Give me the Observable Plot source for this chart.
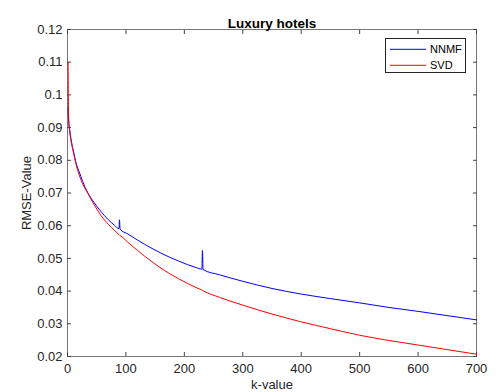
<!DOCTYPE html>
<html>
<head>
<meta charset="utf-8">
<script src="https://cdn.jsdelivr.net/npm/d3@7"></script>
<script src="https://cdn.jsdelivr.net/npm/@observablehq/plot@0.6"></script>
<style>
  html, body { margin: 0; padding: 0; background: #fff; }
  #wrap { position: relative; width: 496px; height: 392px; overflow: hidden; }
  #legend {
    position: absolute; left: 385px; top: 38px; width: 81px; height: 35px;
    border: 1px solid #262626; background: #fff; box-sizing: border-box;
    font-family: "Liberation Sans", Arial, Helvetica, sans-serif; font-size: 11px; color: #000;
  }
  #legend .row { position: absolute; left: 4px; height: 14px; display: flex; align-items: center; }
  #legend svg { margin-right: 4px; }
</style>
</head>
<body>
<div id="wrap"></div>
<script>
const title = "Luxury hotels";
const xLabel = "k-value";
const yLabel = "RMSE-Value";
const seriesNames = ["NNMF", "SVD"];
const seriesColors = ["#0000ff", "#ff0000"];
const xTicks = [0, 100, 200, 300, 400, 500, 600, 700];
const yTicks = [0.02, 0.03, 0.04, 0.05, 0.06, 0.07, 0.08, 0.09, 0.1, 0.11, 0.12];

const kValues = [1, 2, 4, 7, 10, 15, 20, 26, 35, 45, 57, 70, 80, 88, 89, 90, 103, 120, 143, 160, 190, 220, 230, 231, 232, 260, 300, 350, 400, 450, 500, 550, 600, 650, 700];
const nnmf = [0.096, 0.092, 0.089, 0.0855, 0.083, 0.079, 0.0765, 0.0735, 0.0700, 0.0672, 0.0644, 0.0618, 0.0602, 0.0591, 0.0618, 0.0589, 0.0575, 0.0556, 0.0532, 0.0516, 0.0492, 0.0472, 0.0467, 0.0524, 0.0466, 0.0450, 0.0430, 0.0408, 0.0391, 0.0377, 0.0364, 0.0350, 0.0338, 0.0325, 0.0312];
const svd = [0.110, 0.093, 0.0885, 0.085, 0.0825, 0.0785, 0.0755, 0.0728, 0.0698, 0.0666, 0.0632, 0.0604, 0.0586, 0.0573, 0.0571, 0.0570, 0.0550, 0.0524, 0.0492, 0.0470, 0.0438, 0.0411, 0.0403, 0.0402, 0.0401, 0.0381, 0.0357, 0.0330, 0.0306, 0.0285, 0.0265, 0.0249, 0.0235, 0.0221, 0.0207];

const rows = [];
kValues.forEach((k, i) => {
  rows.push({k, rmse: nnmf[i], method: seriesNames[0]});
  rows.push({k, rmse: svd[i], method: seriesNames[1]});
});

const font = "'Liberation Sans', Arial, Helvetica, sans-serif";
const axisColor = "#262626";

const chart = Plot.plot({
  width: 496,
  height: 392,
  marginLeft: 67,
  marginRight: 20,
  marginTop: 29,
  marginBottom: 36,
  style: { fontFamily: font, fontSize: "13px", color: axisColor, background: "#fff", overflow: "visible" },
  x: { domain: [0, 700] },
  y: { domain: [0.02, 0.12] },
  color: { domain: seriesNames, range: seriesColors },
  marks: [
    Plot.frame({ stroke: "#777", strokeWidth: 1 }),
    Plot.axisX({ ticks: xTicks, tickSize: -4, tickPadding: 11, tickFormat: d => String(d), label: xLabel, labelAnchor: "center", labelOffset: 32, labelArrow: "none", stroke: "#444", fill: axisColor }),
    Plot.axisX({ anchor: "top", ticks: xTicks, tickSize: -4, tickFormat: () => "", label: null, stroke: "#444" }),
    Plot.axisY({ ticks: yTicks, tickSize: -4, tickPadding: 9, tickFormat: d => String(d), label: yLabel, labelAnchor: "center", labelOffset: 46, labelArrow: "none", stroke: "#444", fill: axisColor }),
    Plot.axisY({ anchor: "right", ticks: yTicks, tickSize: -4, tickFormat: () => "", label: null, stroke: "#444" }),
    Plot.line(rows, { x: "k", y: "rmse", z: "method", stroke: "method", strokeWidth: 1, curve: "monotone-x" }),
    Plot.text([title], { frameAnchor: "top", dy: -11, fontWeight: "bold", fontSize: 13.5, fill: "#000" })
  ]
});
document.getElementById("wrap").appendChild(chart);

const legend = document.createElement("div");
legend.id = "legend";
seriesNames.forEach((name, i) => {
  const row = document.createElement("div");
  row.className = "row";
  row.style.top = (3 + i * 15.5) + "px";
  const sw = document.createElementNS("http://www.w3.org/2000/svg", "svg");
  sw.setAttribute("width", "36");
  sw.setAttribute("height", "4");
  const ln = document.createElementNS("http://www.w3.org/2000/svg", "line");
  ln.setAttribute("x1", "0"); ln.setAttribute("x2", "36");
  ln.setAttribute("y1", "2.3"); ln.setAttribute("y2", "2.3");
  ln.setAttribute("stroke", seriesColors[i]);
  ln.setAttribute("stroke-width", "1");
  sw.appendChild(ln);
  const t = document.createElement("span");
  t.textContent = name;
  row.appendChild(sw); row.appendChild(t);
  legend.appendChild(row);
});
document.getElementById("wrap").appendChild(legend);
</script>
</body>
</html>
